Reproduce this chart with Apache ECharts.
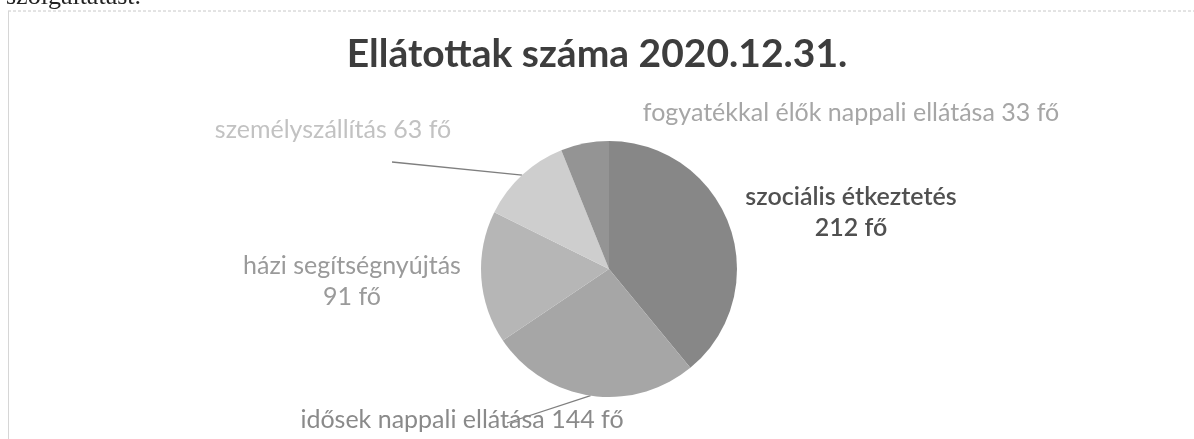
<!DOCTYPE html>
<html>
<head>
<meta charset="utf-8">
<script src="https://cdn.jsdelivr.net/npm/echarts@6/dist/echarts.min.js"></script>
<style>
html,body{margin:0;padding:0;background:#fff;}
#c{width:1194px;height:439px;}
</style>
</head>
<body>
<div id="c"></div>
<script>
const titleText = 'Ellátottak száma 2020.12.31.';
const categories = ['szociális étkeztetés', 'idősek nappali ellátása', 'házi segítségnyújtás', 'személyszállítás', 'fogyatékkal élők nappali ellátása'];
const values = [212, 144, 91, 63, 33];
const unit = 'fő';

const sliceColors = ['#878787', '#a6a6a6', '#b6b6b6', '#cecece', '#949494'];
const labelColors = ['#505050', '#8a8a8a', '#9a9a9a', '#c2c2c2', '#a6a6a6'];
const twoLine = [true, false, true, false, false];
const labelPos = [[851, 212], [462, 420], [352, 281], [333, 130], [851, 113]];
const showLine = [false, true, false, true, false];
// where each leader line ends, relative to its label centre
const lineEndOffset = [null, [45, 3], null, [59, 32], null];

const chart = echarts.init(document.getElementById('c'), null, {renderer: 'canvas'});

const data = categories.map((name, i) => ({
  name: name,
  value: values[i],
  itemStyle: {color: sliceColors[i]},
  label: {
    color: labelColors[i],
    fontWeight: i === 0 ? 600 : 'normal',
    formatter: twoLine[i] ? '{b}\n{c} ' + unit : '{b} {c} ' + unit
  },
  labelLine: {show: showLine[i], lineStyle: {color: '#7f7f7f', width: 1.3}}
}));

chart.setOption({
  backgroundColor: '#ffffff',
  animation: false,
  title: {
    text: titleText,
    left: 'center',
    top: 30,
    textStyle: {fontFamily: 'Lato', fontWeight: 'bold', fontSize: 39, color: '#3d3d3d'}
  },
  graphic: [
    {type: 'text', left: 6, top: -16, style: {text: 'szolgáltatást.', font: '26px "Liberation Serif"', fill: '#222'}},
    {type: 'line', shape: {x1: 8, y1: 11, x2: 1194, y2: 11}, style: {stroke: '#c8c8c8', lineWidth: 1, lineDash: [3, 2]}},
    {type: 'line', shape: {x1: 8.5, y1: 11, x2: 8.5, y2: 439}, style: {stroke: '#d6d6d6', lineWidth: 1}}
  ],
  series: [{
    type: 'pie',
    center: [609, 269],
    radius: 128,
    startAngle: 90,
    clockwise: true,
    data: data,
    z: 3,
    label: {
      show: true,
      fontFamily: 'Lato',
      fontSize: 25,
      lineHeight: 31,
      align: 'center'
    },
    labelLine: {length: 10, length2: 10, smooth: false},
    labelLayout: function (params) {
      const i = params.dataIndex;
      const p = labelPos[i];
      const out = {x: p[0], y: p[1], align: 'center', verticalAlign: 'middle'};
      const off = lineEndOffset[i];
      if (off && params.labelLinePoints && params.labelLinePoints.length) {
        const start = params.labelLinePoints[0];
        out.labelLinePoints = [start, [p[0] + off[0], p[1] + off[1]]];
      }
      return out;
    },
    emphasis: {disabled: true}
  }]
});
</script>
</body>
</html>
